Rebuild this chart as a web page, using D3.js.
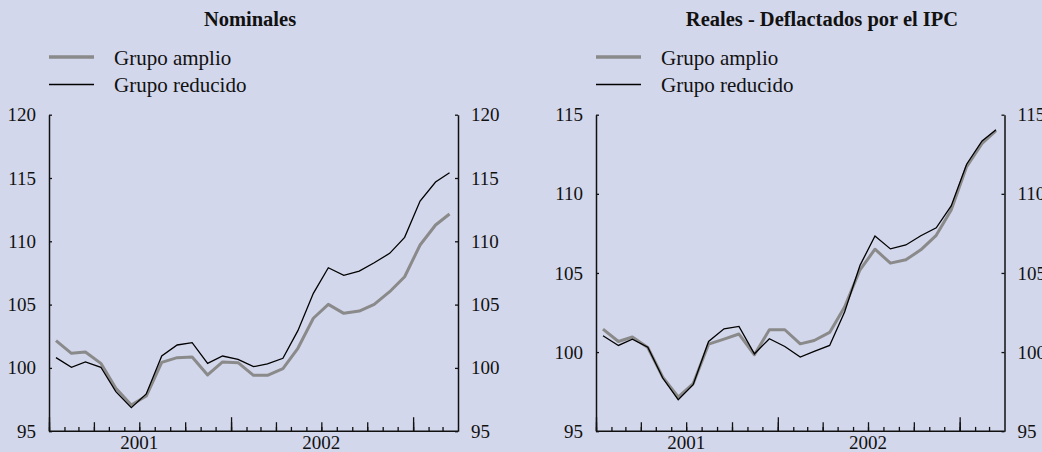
<!DOCTYPE html>
<html>
<head>
<meta charset="utf-8">
<script src="https://cdn.jsdelivr.net/npm/d3@7"></script>
<style>
  html, body { margin: 0; padding: 0; background: #d3d7eb; overflow: hidden; }
  svg { display: block; }
  text { font-family: "Liberation Serif", "Times New Roman", serif; fill: #111; }
</style>
</head>
<body>
<div id="chart"></div>
<script>
// monthly observations, Jan 2001 - Mar 2003
const months = d3.range(27).map(i => new Date(Date.UTC(2001, i, 15)));

const nomAmplio = [102.15, 101.15, 101.26, 100.36, 98.39, 97.07, 97.78, 100.44, 100.81, 100.86,
  99.44, 100.47, 100.41, 99.41, 99.41, 99.94, 101.55, 103.92, 105.02, 104.31,
  104.49, 105.02, 106.02, 107.2, 109.71, 111.29, 112.16];
const nomReducido = [100.81, 100.05, 100.47, 100.05, 98.12, 96.86, 97.94, 100.94, 101.81, 101.99,
  100.36, 100.94, 100.68, 100.1, 100.31, 100.76, 102.94, 105.89, 107.91, 107.31,
  107.65, 108.31, 109.05, 110.31, 113.18, 114.68, 115.42];

const realAmplio = [101.45, 100.67, 100.95, 100.29, 98.42, 97.16, 98.0, 100.5, 100.82, 101.14,
  99.83, 101.41, 101.41, 100.52, 100.73, 101.24, 102.85, 105.2, 106.5, 105.62,
  105.83, 106.46, 107.38, 108.98, 111.72, 113.19, 113.99];
const realReducido = [101.03, 100.42, 100.82, 100.31, 98.36, 96.99, 97.94, 100.67, 101.47, 101.62,
  99.89, 100.84, 100.35, 99.68, 100.04, 100.42, 102.53, 105.48, 107.34, 106.52,
  106.77, 107.35, 107.85, 109.24, 111.87, 113.34, 114.05];

const nomTicks = [95, 100, 105, 110, 115, 120];
const realTicks = [95, 100, 105, 110, 115];
const yearLabels = ["2001", "2002"];
const legendNames = ["Grupo amplio", "Grupo reducido"];

const width = 1042, height = 452;
const svg = d3.select("#chart").append("svg")
  .attr("width", width)
  .attr("height", height);

const xDomain = [new Date(Date.UTC(2001, 0, 1)), new Date(Date.UTC(2003, 3, 1))];

function panel(opts) {
  const g = svg.append("g");
  const x = d3.scaleUtc().domain(xDomain).range([opts.left, opts.right]);
  const y = d3.scaleLinear().domain(opts.yDomain).range([431.2, 114.7]);

  // title
  g.append("text")
    .attr("x", opts.titleX)
    .attr("y", 26)
    .attr("text-anchor", "middle")
    .attr("font-weight", "bold")
    .attr("font-size", "20.5px")
    .text(opts.title);

  // legend
  const leg = g.selectAll(".leg").data(legendNames).join("g")
    .attr("transform", (d, i) => `translate(${opts.left},${57 + i * 27.5})`);
  leg.append("line")
    .attr("x1", 0).attr("x2", 45)
    .attr("stroke", (d, i) => i === 0 ? "#8a8a8a" : "#000")
    .attr("stroke-width", (d, i) => i === 0 ? 3.5 : 1.4);
  leg.append("text")
    .attr("x", 65)
    .attr("y", 7.5)
    .attr("font-size", "21px")
    .text(d => d);

  // x axis: monthly, quarterly and yearly ticks pointing up
  const base = 431.2;
  const tickSets = [
    { ticks: d3.utcMonth.range(xDomain[0], xDomain[1]), size: 4.3 },
    { ticks: d3.utcMonth.every(3).range(xDomain[0], xDomain[1]), size: 9 },
    { ticks: d3.utcYear.range(xDomain[0], d3.utcDay.offset(xDomain[1], 1)), size: 14 }
  ];
  tickSets.forEach(t => {
    g.append("g")
      .attr("transform", `translate(0,${base})`)
      .call(d3.axisBottom(x).tickValues(t.ticks).tickSize(-t.size).tickFormat(""))
      .call(a => a.select(".domain").remove())
      .call(a => a.selectAll("line").attr("stroke", "#111").attr("stroke-width", 1.3));
  });
  g.append("line")
    .attr("x1", opts.left).attr("x2", opts.right)
    .attr("y1", base).attr("y2", base)
    .attr("stroke", "#111").attr("stroke-width", 1.5);

  // year labels centred in each year
  g.selectAll(".yl").data(yearLabels).join("text")
    .attr("x", d => x(new Date(Date.UTC(+d, 6, 1))))
    .attr("y", 449)
    .attr("text-anchor", "middle")
    .attr("font-size", "19px")
    .text(d => d);

  // y axes, both sides, small inward ticks
  const yl = g.append("g")
    .attr("transform", `translate(${opts.left},0)`)
    .call(d3.axisLeft(y).tickValues(opts.ticks).tickSize(-3).tickPadding(13).tickSizeOuter(0));
  const yr = g.append("g")
    .attr("transform", `translate(${opts.right},0)`)
    .call(d3.axisRight(y).tickValues(opts.ticks).tickSize(-3).tickPadding(13).tickSizeOuter(0));
  [yl, yr].forEach(a => {
    a.select(".domain").attr("stroke", "#111").attr("stroke-width", 1.5);
    a.selectAll("line").attr("stroke", "#111").attr("stroke-width", 1.3);
    a.selectAll("text")
      .attr("font-family", "Liberation Serif, Times New Roman, serif")
      .attr("font-size", "19px")
      .attr("fill", "#111");
  });

  const line = d3.line()
    .x((d, i) => x(months[i]))
    .y(d => y(d));

  g.append("path")
    .datum(opts.amplio)
    .attr("fill", "none")
    .attr("stroke", "#8a8a8a")
    .attr("stroke-width", 3)
    .attr("stroke-linejoin", "round")
    .attr("d", line);
  g.append("path")
    .datum(opts.reducido)
    .attr("fill", "none")
    .attr("stroke", "#000")
    .attr("stroke-width", 1.3)
    .attr("d", line);
}

panel({
  left: 49, right: 458, titleX: 250,
  title: "Nominales",
  yDomain: [95, 120], ticks: nomTicks,
  amplio: nomAmplio, reducido: nomReducido
});

panel({
  left: 596, right: 1004.5, titleX: 822,
  title: "Reales - Deflactados por el IPC",
  yDomain: [95, 115], ticks: realTicks,
  amplio: realAmplio, reducido: realReducido
});
</script>
</body>
</html>
